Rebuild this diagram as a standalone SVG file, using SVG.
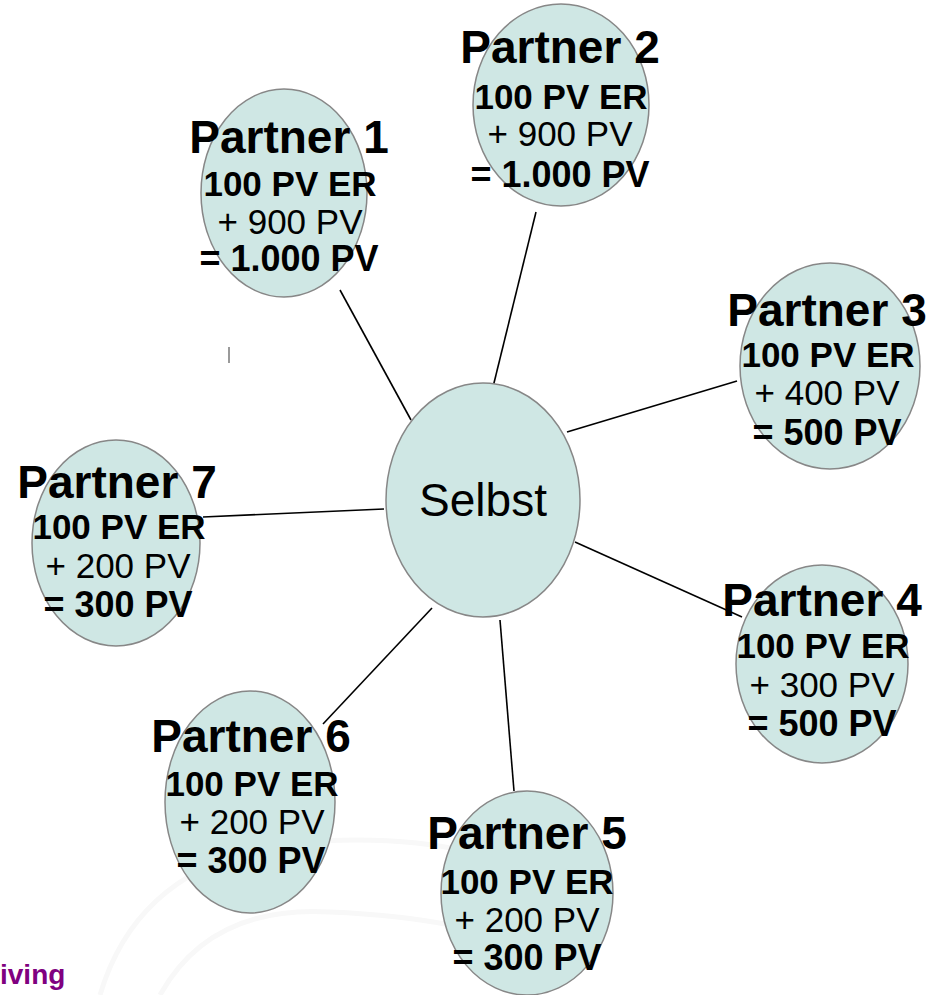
<svg xmlns="http://www.w3.org/2000/svg" width="942" height="995" viewBox="0 0 942 995">
<style>
.node{fill:#cfe7e4;stroke:#878787;stroke-width:1.5}
.t{font-family:"Liberation Sans",Arial,sans-serif;fill:#000;text-anchor:middle}
.title{font-size:46px;font-weight:bold}
.er{font-size:35px;font-weight:bold}
.plus{font-size:35px}
.eq{font-size:36px;font-weight:bold}
.self{font-size:46px}
.conn line{stroke:#000;stroke-width:1.6}
.bg{fill:none;stroke:#f8f8f8;stroke-width:5}
</style>
<rect width="942" height="995" fill="#fff"/>
<g id="background">
<path class="bg" d="M100,995 Q140,860 300,842 Q400,835 470,852"/>
<path class="bg" d="M160,995 Q210,905 330,912 Q400,915 450,925"/>
<line x1="229" y1="347" x2="229" y2="363" stroke="#9a9a9a" stroke-width="2"/>
</g>
<g id="connectors" class="conn">
<line x1="340" y1="290" x2="411" y2="420"/>
<line x1="536" y1="212" x2="493" y2="387"/>
<line x1="737" y1="381" x2="567" y2="432"/>
<line x1="575" y1="542" x2="742" y2="617"/>
<line x1="500" y1="620" x2="514" y2="791"/>
<line x1="432" y1="608" x2="323" y2="724"/>
<line x1="384" y1="509" x2="203" y2="517"/>
</g>
<g id="selbst">
<ellipse class="node" cx="483" cy="500" rx="97" ry="117"/>
<text class="t self" x="483" y="516">Selbst</text>
</g>
<g id="partner1">
<ellipse class="node" cx="284" cy="193" rx="83" ry="104"/>
<text class="t title" x="289" y="153">Partner 1</text>
<text class="t er" x="290" y="196">100 PV ER</text>
<text class="t plus" x="290" y="234">+ 900 PV</text>
<text class="t eq" x="289" y="271">= 1.000 PV</text>
</g>
<g id="partner2">
<ellipse class="node" cx="561" cy="105" rx="88" ry="101"/>
<text class="t title" x="560" y="63">Partner 2</text>
<text class="t er" x="561" y="109">100 PV ER</text>
<text class="t plus" x="560" y="146">+ 900 PV</text>
<text class="t eq" x="560" y="187">= 1.000 PV</text>
</g>
<g id="partner3">
<ellipse class="node" cx="830" cy="366" rx="90" ry="103"/>
<text class="t title" x="827" y="326">Partner 3</text>
<text class="t er" x="828" y="367">100 PV ER</text>
<text class="t plus" x="827" y="405">+ 400 PV</text>
<text class="t eq" x="827" y="445">= 500 PV</text>
</g>
<g id="partner4">
<ellipse class="node" cx="822" cy="664" rx="86" ry="99"/>
<text class="t title" x="822" y="616">Partner 4</text>
<text class="t er" x="823" y="658">100 PV ER</text>
<text class="t plus" x="822" y="697">+ 300 PV</text>
<text class="t eq" x="822" y="736">= 500 PV</text>
</g>
<g id="partner5">
<ellipse class="node" cx="527" cy="893" rx="86" ry="102"/>
<text class="t title" x="527" y="849">Partner 5</text>
<text class="t er" x="527" y="894">100 PV ER</text>
<text class="t plus" x="527" y="932">+ 200 PV</text>
<text class="t eq" x="527" y="970">= 300 PV</text>
</g>
<g id="partner6">
<ellipse class="node" cx="250" cy="802" rx="85" ry="111"/>
<text class="t title" x="251" y="752">Partner 6</text>
<text class="t er" x="252" y="796">100 PV ER</text>
<text class="t plus" x="252" y="834">+ 200 PV</text>
<text class="t eq" x="251" y="873">= 300 PV</text>
</g>
<g id="partner7">
<ellipse class="node" cx="116" cy="543" rx="84" ry="103"/>
<text class="t title" x="117" y="498">Partner 7</text>
<text class="t er" x="119" y="539">100 PV ER</text>
<text class="t plus" x="118" y="578">+ 200 PV</text>
<text class="t eq" x="118" y="617">= 300 PV</text>
</g>
<text x="0" y="984" font-family="'Liberation Sans',Arial,sans-serif" font-size="28" font-weight="bold" fill="#800080">iving</text>
</svg>
